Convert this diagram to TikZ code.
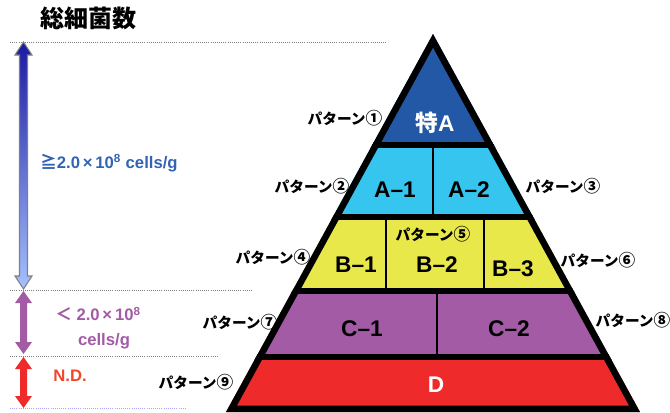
\documentclass[tikz,border=0pt]{standalone}
\usepackage{fontspec}
\setmainfont{Liberation Sans}
\newfontfamily\jp{Noto Sans CJK JP}
\usetikzlibrary{positioning}
\definecolor{tokuA}{HTML}{2358A6}
\definecolor{rankA}{HTML}{36C5EF}
\definecolor{rankB}{HTML}{E9E84B}
\definecolor{rankC}{HTML}{A35BA5}
\definecolor{rankD}{HTML}{EE2A2B}
\definecolor{txtblue}{HTML}{3363B3}
\definecolor{txtred}{HTML}{F2462B}
\newcommand{\patno}[1]{パターン{\fontsize{12.5}{13}\selectfont #1}}
\begin{document}
\begin{tikzpicture}[x=0.75pt, y=-0.75pt,
    pat/.style={font=\jp\bfseries\fontsize{11}{13}\selectfont, inner sep=0pt},
    band/.style={font=\bfseries\fontsize{17}{19}\selectfont, inner sep=0pt},
    rangetxt/.style={font=\bfseries\fontsize{12.5}{15}\selectfont, inner sep=0pt, anchor=west},
    guide/.style={densely dotted, gray, line width=0.6pt},
    sep/.style={line width=4.5pt},
    div/.style={line width=1.5pt}]
    \useasboundingbox (0,0) rectangle (670,412);
    % scale on the left
    \node[font=\jp\bfseries\fontsize{18}{20}\selectfont, inner sep=0pt] (title) at (88,18) {総細菌数};
    \draw[guide] (10,42) -- (387,42);
    \draw[guide] (10,290) -- (252,290);
    \draw[guide] (10,356) -- (217,356);
    \draw[guide, blue!35] (10,408) -- (185,408);
    \path[draw=gray, line width=0.8pt, top color=blue!60!black!90, bottom color=cyan!30!blue!35]
      (23.5,42) -- (32,55) -- (27.5,55) -- (27.5,276) -- (32,276) -- (23.5,289)
      -- (15,276) -- (19.5,276) -- (19.5,55) -- (15,55) -- cycle;
    \fill[rankC] (23.5,291) -- (32,303) -- (27,303) -- (27,342) -- (32,342) -- (23.5,354)
      -- (15,342) -- (20,342) -- (20,303) -- (15,303) -- cycle;
    \fill[rankD] (23.5,357) -- (32,369) -- (27,369) -- (27,396) -- (32,396) -- (23.5,408)
      -- (15,396) -- (20,396) -- (20,369) -- (15,369) -- cycle;
    \node[rangetxt, txtblue] (high) at (40,163) {{\jp ≧}2.0\,×\,10\textsuperscript{8} cells/g};
    \node[rangetxt, rankC] (low) at (55,314) {{\jp ＜} 2.0\,×\,10\textsuperscript{8}};
    \node[rangetxt, rankC, anchor=center] (lowunit) at (104,341) {cells/g};
    \node[rangetxt, txtred, anchor=center] (nd) at (70,376) {N.D.};
    % pyramid
    \begin{scope}
      \clip (433,34) -- (226,412) -- (640,412) -- cycle;
      \fill[tokuA] (200,20) rectangle (680,144.5);
      \fill[rankA] (200,144.5) rectangle (680,216.5);
      \fill[rankB] (200,216.5) rectangle (680,291);
      \fill[rankC] (200,291) rectangle (680,356.5);
      \fill[rankD] (200,356.5) rectangle (680,420);
      \draw[sep] (200,144.5) -- (680,144.5);
      \draw[sep] (200,216.5) -- (680,216.5);
      \draw[sep] (200,291) -- (680,291);
      \draw[sep] (200,356.5) -- (680,356.5);
      \draw[div] (433,144) -- (433,217);
      \draw[div] (386,216) -- (386,291);
      \draw[div] (484,216) -- (484,291);
      \draw[div] (437,291) -- (437,357);
      \draw[line width=9.75pt] (433,34) -- (226,412) -- (640,412) -- cycle;
    \end{scope}
    \node[band, white] (sa) at (435,123) {{\jp 特}A};
    \node[band] (a1) at (395,190) {A–1};
    \node[band] (a2) at (469,190) {A–2};
    \node[band] (b1) at (356,265) {B–1};
    \node[band] (b2) at (437,265) {B–2};
    \node[band] (b3) at (513,269) {B–3};
    \node[band] (c1) at (362,329) {C–1};
    \node[band] (c2) at (509,329) {C–2};
    \node[band, white] (d) at (436,385) {D};
    % pattern labels
    \node[pat] (p1) at (345,118) {\patno{①}};
    \node[pat] (p2) at (312,186) {\patno{②}};
    \node[pat] (p3) at (563,186) {\patno{③}};
    \node[pat] (p4) at (273,257) {\patno{④}};
    \node[pat] (p5) at (433,234) {\patno{⑤}};
    \node[pat] (p6) at (598,260) {\patno{⑥}};
    \node[pat] (p7) at (240,322) {\patno{⑦}};
    \node[pat] (p8) at (633,320) {\patno{⑧}};
    \node[pat] (p9) at (196,382) {\patno{⑨}};
\end{tikzpicture}
\end{document}
